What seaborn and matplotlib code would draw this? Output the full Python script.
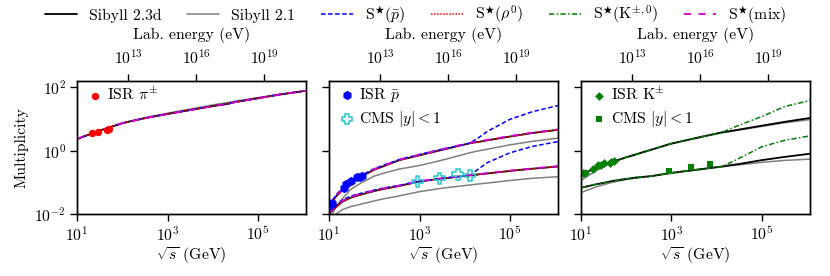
import numpy as np
import pandas as pd
import matplotlib
matplotlib.use("Agg")
import matplotlib.pyplot as plt
import seaborn as sns
from matplotlib.lines import Line2D
from matplotlib.ticker import NullLocator, FixedLocator

# ---------------- data ----------------
sqrt_s = [10, 14, 20, 30, 48, 100, 155, 360, 1000, 3160, 13000, 20000,
          31600, 1e5, 3.16e5, 1.15e6]

# pions (pi+-)
pi_s23d = [2.27, 2.75, 3.31, 4.07, 5.13, 7.18, 8.32, 10.7, 14.0, 18.6, 26.3,
           28.5, 33.1, 43.7, 57.5, 75.0]
pi_s21 = [2.27, 2.75, 3.31, 4.07, 5.13, 7.2, 8.4, 11.2, 14.8, 20.0, 28.8,
          31.5, 35.5, 45.7, 58.9, 75.0]
pi_star = [2.27, 2.75, 3.31, 4.07, 5.13, 7.18, 8.32, 10.7, 14.0, 18.6, 26.3,
           28.5, 33.1, 43.7, 57.5, 75.0]
isr_pi_x = [22.0, 29.5, 45.7, 51.3]
isr_pi_y = [3.6, 3.9, 4.5, 4.7]

# antiprotons, full phase space
pb_s23d = [0.0158, 0.0355, 0.0575, 0.0955, 0.145, 0.251, 0.316, 0.501, 0.708,
           1.05, 1.70, 1.86, 2.09, 2.75, 3.55, 4.47]
pb_s21 = [0.0063, 0.0166, 0.0316, 0.060, 0.091, 0.158, 0.191, 0.263, 0.339,
          0.50, 0.85, 0.977, 1.10, 1.51, 1.95, 2.45]
pb_star_pbar = [0.0178, 0.0398, 0.066, 0.107, 0.158, 0.269, 0.339, 0.525,
                0.759, 1.10, 1.70, 2.51, 3.98, 9.55, 16.6, 25.7]
pb_star_mix = [0.0170, 0.038, 0.062, 0.102, 0.155, 0.265, 0.33, 0.52, 0.74,
               1.09, 1.75, 1.92, 2.16, 2.85, 3.65, 4.6]
# antiprotons, |y| < 1
pbc_s23d = [0.0105, 0.0166, 0.0251, 0.0331, 0.0407, 0.0537, 0.0617, 0.0776,
            0.107, 0.132, 0.166, 0.178, 0.191, 0.229, 0.269, 0.316]
pbc_s21 = [0.005, 0.01, 0.0141, 0.0174, 0.0204, 0.0263, 0.0302, 0.038,
           0.0513, 0.066, 0.0832, 0.0891, 0.0955, 0.115, 0.135, 0.151]
pbc_star_pbar = [0.0117, 0.019, 0.0282, 0.0372, 0.0447, 0.0575, 0.066, 0.0813,
                 0.110, 0.135, 0.166, 0.263, 0.417, 0.85, 1.35, 1.91]
pbc_star_mix = [0.0112, 0.0178, 0.0268, 0.0350, 0.0430, 0.0562, 0.0646, 0.0800,
                0.110, 0.135, 0.170, 0.182, 0.195, 0.234, 0.275, 0.324]
isr_pb_x = [10.7, 11.7, 22.0, 23.5, 30.2, 41.7, 47.9, 53.7]
isr_pb_y = [0.0195, 0.023, 0.069, 0.087, 0.11, 0.144, 0.15, 0.158]
cms_pb_x = [900, 2760, 7000, 13000]
cms_pb_y = [0.107, 0.135, 0.18, 0.163]

# kaons, full phase space
k_s23d = [0.174, 0.219, 0.269, 0.339, 0.437, 0.617, 0.741, 1.07, 1.66, 2.40,
          3.72, 4.07, 4.57, 6.03, 7.94, 10.5]
k_s21 = [0.115, 0.158, 0.219, 0.302, 0.417, 0.603, 0.724, 1.05, 1.62, 2.34,
         3.63, 3.98, 4.37, 5.75, 7.41, 9.33]
k_star = [0.174, 0.219, 0.269, 0.339, 0.437, 0.617, 0.741, 1.07, 1.66, 2.40,
          3.72, 4.79, 6.31, 11.7, 24.0, 37.2]
# kaons, |y| < 1
kc_s23d = [0.0676, 0.0759, 0.0851, 0.0955, 0.110, 0.129, 0.141, 0.158, 0.200,
           0.245, 0.316, 0.347, 0.380, 0.501, 0.631, 0.794]
kc_s21 = [0.0479, 0.0575, 0.0692, 0.0832, 0.100, 0.123, 0.135, 0.155, 0.195,
          0.240, 0.309, 0.331, 0.355, 0.427, 0.490, 0.537]
kc_star = [0.0676, 0.0759, 0.0851, 0.0955, 0.110, 0.129, 0.141, 0.158, 0.200,
           0.245, 0.316, 0.417, 0.575, 1.32, 2.09, 2.88]
isr_k_x = [10.9, 12.3, 18.2, 23.5, 28.0, 32.5, 42.7, 46.8, 53.7]
isr_k_y = [0.20, 0.20, 0.26, 0.35, 0.35, 0.40, 0.40, 0.45, 0.48]
cms_k_x = [900, 2760, 7000]
cms_k_y = [0.234, 0.30, 0.37]

legend_labels = ["Sibyll 2.3d", "Sibyll 2.1", r"S$^\bigstar(\bar{p})$",
                 r"S$^\bigstar(\rho^0)$", r"S$^\bigstar(\mathrm{K}^{\pm,0})$",
                 r"S$^\bigstar(\mathrm{mix})$"]

# ---------------- style ----------------
sns.set_style("ticks", {"axes.edgecolor": "black", "xtick.color": "black",
                        "ytick.color": "black", "text.color": "black",
                        "axes.labelcolor": "black"})
FAM = ["cmr10", "DejaVu Serif"]
plt.rcParams.update({"font.family": FAM, "mathtext.fontset": "cm",
                     "axes.formatter.use_mathtext": True})

# font size chosen so that "Lab. energy (eV)" is ~117 px wide (as in the target)
_f = plt.figure(figsize=(8.3, 2.76), dpi=100)
_t = _f.text(0.1, 0.5, "Lab. energy (eV)", fontsize=11)
_f.canvas.draw()
_w = _t.get_window_extent(_f.canvas.get_renderer()).width
plt.close(_f)
FS = 11 * 117.0 / _w
FSPX = FS * 100 / 72.0

plt.rcParams.update({
    "font.size": FS,
    "axes.labelsize": FS,
    "xtick.labelsize": FS,
    "ytick.labelsize": FS,
    "legend.fontsize": FS,
    "axes.linewidth": 1.0,
    "xtick.major.size": 5, "ytick.major.size": 5,
    "xtick.major.width": 1.0, "ytick.major.width": 1.0,
})

C_BLACK, C_GRAY = "black", "#808080"
STY = {
    "s23d": dict(color=C_BLACK, linestyle="-", linewidth=1.3),
    "s21": dict(color=C_GRAY, linestyle="-", linewidth=1.1),
    "pbar": dict(color="blue", linestyle=(0, (3, 1.6)), linewidth=1.1),
    "rho": dict(color="red", linestyle=(0, (1, 1)), linewidth=1.1),
    "kaon": dict(color="green", linestyle=(0, (3.5, 1.5, 1, 1.5)), linewidth=1.1),
    "mix": dict(color="#d000d0", linestyle=(0, (4, 4)), linewidth=1.3),
}

W, H = 830, 276
fig, axes = plt.subplots(1, 3, figsize=(8.3, 2.76), dpi=100, sharey=True)
fig.subplots_adjust(left=77 / W, right=810 / W, bottom=1 - 214.3 / H,
                    top=1 - 80.7 / H, wspace=0.1004)

XMIN, XMAX = 10, 1.15e6
YMIN, YMAX = 1e-2, 155


def line(ax, y, key):
    sns.lineplot(x=sqrt_s, y=y, ax=ax, estimator=None, sort=False,
                 legend=False, **STY[key])


# Panel 1: pions
ax = axes[0]
line(ax, pi_s21, "s21")
line(ax, pi_s23d, "s23d")
line(ax, pi_star, "pbar")
line(ax, pi_star, "rho")
line(ax, pi_star, "mix")
sns.scatterplot(x=isr_pi_x, y=isr_pi_y, ax=ax, color="red", marker="o",
                s=28, linewidth=0, label=r"ISR $\pi^{\pm}$", zorder=5)

# Panel 2: antiprotons
ax = axes[1]
for ys21, y23, ypb, ymix in [(pb_s21, pb_s23d, pb_star_pbar, pb_star_mix),
                             (pbc_s21, pbc_s23d, pbc_star_pbar, pbc_star_mix)]:
    line(ax, ys21, "s21")
    line(ax, y23, "s23d")
    line(ax, y23, "rho")
    line(ax, ypb, "pbar")
    line(ax, ymix, "mix")
sns.scatterplot(x=isr_pb_x, y=isr_pb_y, ax=ax, color="blue", marker="h",
                s=45, linewidth=0, label=r"ISR $\bar{p}$", zorder=5)
sns.scatterplot(x=cms_pb_x, y=cms_pb_y, ax=ax, marker="P", s=60,
                facecolor="none", edgecolor="#20c8d0", linewidth=1.1,
                label=r"CMS $|y|<1$", zorder=5)

# Panel 3: kaons
ax = axes[2]
for ys21, y23, yk in [(k_s21, k_s23d, k_star), (kc_s21, kc_s23d, kc_star)]:
    line(ax, ys21, "s21")
    line(ax, y23, "s23d")
    line(ax, yk, "kaon")
sns.scatterplot(x=isr_k_x, y=isr_k_y, ax=ax, color="green", marker="D",
                s=20, linewidth=0, label=r"ISR K$^{\pm}$", zorder=5)
sns.scatterplot(x=cms_k_x, y=cms_k_y, ax=ax, color="green", marker="s",
                s=22, linewidth=0, label=r"CMS $|y|<1$", zorder=5)

M_P = 0.938


def elab(x):
    return np.asarray(x, float) ** 2 / (2 * M_P) * 1e9


AXW = (810 - 77) / (3 + 2 * 0.1004)  # axes width in px
AXH = 214.3 - 80.7
for i, ax in enumerate(axes):
    ax.set_xscale("log")
    ax.set_yscale("log")
    ax.set_xlim(XMIN, XMAX)
    ax.set_ylim(YMIN, YMAX)
    ax.xaxis.set_major_locator(FixedLocator([1e1, 1e3, 1e5]))
    ax.yaxis.set_major_locator(FixedLocator([1e-2, 1e0, 1e2]))
    ax.xaxis.set_minor_locator(NullLocator())
    ax.yaxis.set_minor_locator(NullLocator())
    ax.set_xlabel(r"$\sqrt{s}$ (GeV)", labelpad=1)
    ax.tick_params(axis="x", which="both", direction="out", top=False, pad=3)
    ax.tick_params(axis="y", which="both", direction="out", right=False, pad=3)
    for sp in ax.spines.values():
        sp.set_visible(True)
    hl = 16.0 / FSPX
    ax.legend(loc="upper left", frameon=False, borderpad=0, borderaxespad=0,
              bbox_to_anchor=(10.0 / AXW, 1 - 5.0 / AXH),
              handlelength=hl, handletextpad=4.0 / FSPX, labelspacing=0.35)
    # top axis: laboratory energy
    tw = ax.twiny()
    tw.set_xscale("log")
    tw.set_xlim(elab(XMIN), elab(XMAX))
    tw.xaxis.set_major_locator(FixedLocator([1e13, 1e16, 1e19]))
    tw.xaxis.set_minor_locator(NullLocator())
    tw.set_xlabel("Lab. energy (eV)", labelpad=7)
    tw.tick_params(axis="x", direction="out", pad=5)
    for sp in tw.spines.values():
        sp.set_visible(True)
    if i == 0:
        ax.set_ylabel("Multiplicity", labelpad=4)
    else:
        ax.tick_params(axis="y", labelleft=False)

handles = [Line2D([], [], **STY[k]) for k in
           ["s23d", "s21", "pbar", "rho", "kaon", "mix"]]
LEG_KW = dict(loc="center left", ncol=6, bbox_to_anchor=(45.0 / W, 1 - 15.0 / H),
              frameon=False, handlelength=32.0 / FSPX,
              handletextpad=12.0 / FSPX, borderpad=0, borderaxespad=0)
leg = fig.legend(handles, legend_labels, columnspacing=0, **LEG_KW)
fig.canvas.draw()
w0 = leg.get_window_extent(fig.canvas.get_renderer()).width
leg.remove()
cs = max((741.0 - w0) / (5 * FSPX), 0.2)
fig.legend(handles, legend_labels, columnspacing=cs, **LEG_KW)

fig.savefig("out.png", dpi=100)
